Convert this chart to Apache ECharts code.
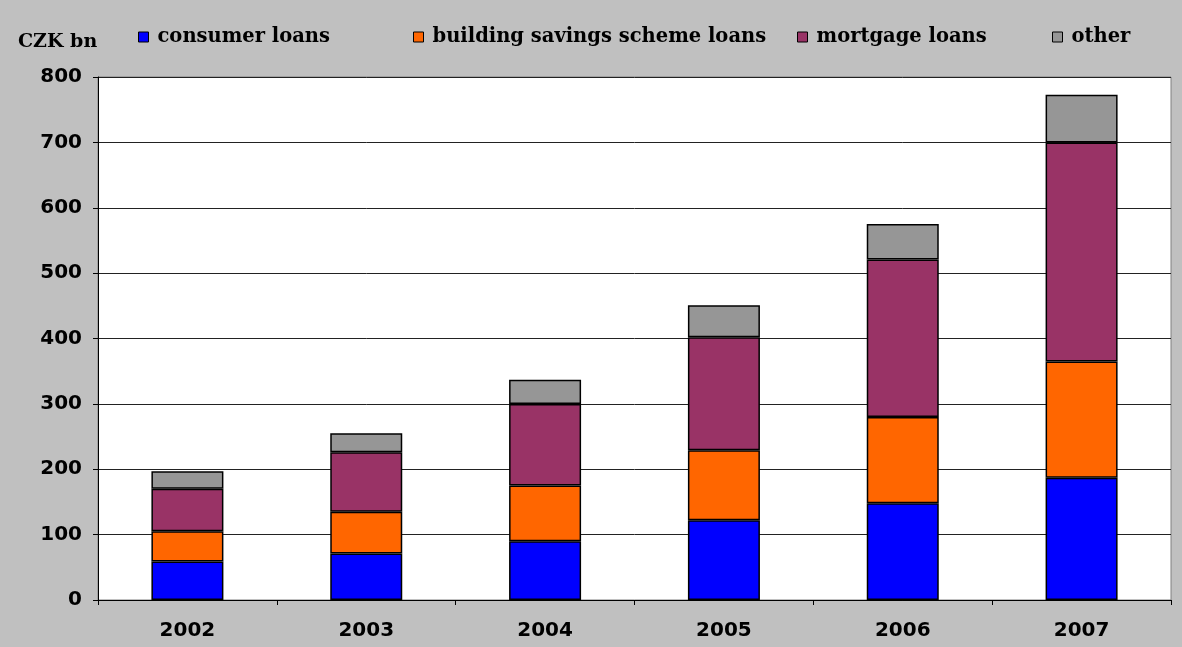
<!DOCTYPE html>
<html>
<head>
<meta charset="utf-8">
<script src="https://cdn.jsdelivr.net/npm/echarts@6/dist/echarts.min.js"></script>
<style>
html,body{margin:0;padding:0;background:#c0c0c0;}
#chart{width:1182px;height:647px;}
</style>
</head>
<body>
<div id="chart"></div>
<script>
const years = ['2002','2003','2004','2005','2006','2007'];
const consumerLoans = [59, 71, 90, 122, 148, 187];
const buildingSavingsLoans = [46, 64, 85, 107, 132, 178];
const mortgageLoans = [65, 91, 125, 173, 241, 335];
const otherLoans = [27, 29, 37, 49, 54, 73];
const seriesNames = ['consumer loans', 'building savings scheme loans', 'mortgage loans', 'other'];
const seriesColors = ['#0000ff', '#ff6600', '#993366', '#969696'];
const yTicks = { min: 0, max: 800, interval: 100 };

const serifFont = '"DejaVu Serif", serif';
const sansFont = '"DejaVu Sans", sans-serif';

const chart = echarts.init(document.getElementById('chart'));
const dataSets = [consumerLoans, buildingSavingsLoans, mortgageLoans, otherLoans];
const legendLefts = [133, 408, 792, 1047];

chart.setOption({
  backgroundColor: '#c0c0c0',
  animation: false,
  title: {
    text: 'CZK bn',
    left: 13,
    top: 28,
    textStyle: { fontFamily: serifFont, fontWeight: 'bold', fontSize: 19, color: '#000' }
  },
  legend: seriesNames.map((n, i) => ({
    data: [n],
    left: legendLefts[i],
    top: 22,
    itemWidth: 10,
    itemHeight: 10,
    icon: 'rect',
    itemStyle: { borderColor: '#000', borderWidth: 1 },
    textStyle: { fontFamily: serifFont, fontWeight: 'bold', fontSize: 19.5, color: '#000', padding: [0, 0, 0, 4] }
  })),
  grid: {
    left: 98, right: 11, top: 77, bottom: 47,
    show: true, backgroundColor: '#ffffff', borderColor: '#808080', borderWidth: 1
  },
  xAxis: {
    type: 'category',
    data: years,
    axisLine: { lineStyle: { color: '#000', width: 1 } },
    axisTick: { show: true, alignWithLabel: false, length: 5, lineStyle: { color: '#000' } },
    axisLabel: { fontFamily: sansFont, fontWeight: 'bold', fontSize: 20, color: '#000', margin: 21 },
    splitLine: { show: false }
  },
  yAxis: {
    type: 'value',
    min: yTicks.min, max: yTicks.max, interval: yTicks.interval,
    axisLine: { show: true, lineStyle: { color: '#000', width: 1 } },
    axisTick: { show: true, length: 5, lineStyle: { color: '#000' } },
    axisLabel: { fontFamily: sansFont, fontWeight: 'bold', fontSize: 20, color: '#000', margin: 16 },
    splitLine: { show: true, lineStyle: { color: '#222', width: 1 } }
  },
  series: seriesNames.map((n, i) => ({
    name: n,
    type: 'bar',
    stack: 'total',
    barWidth: 72,
    data: dataSets[i],
    itemStyle: { color: seriesColors[i], borderColor: '#000', borderWidth: 1.5 }
  }))
});
</script>
</body>
</html>
